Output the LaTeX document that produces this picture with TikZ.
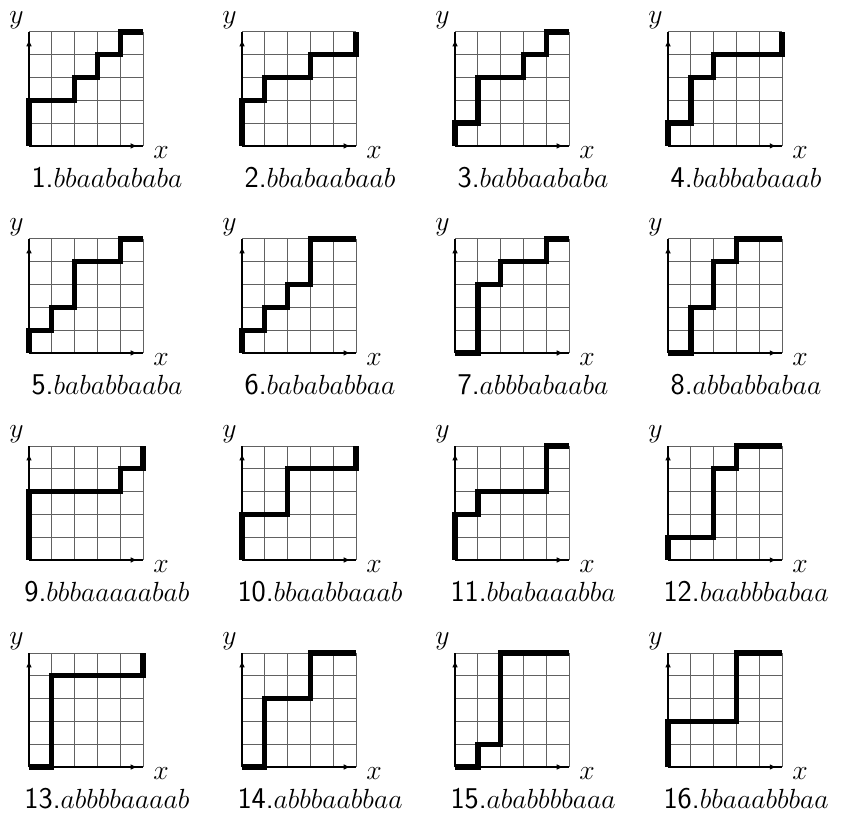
\documentclass[tikz,border=0pt]{standalone}
\usetikzlibrary{arrows.meta}

% one panel: grid, axes, lattice path and its word
% #1 number, #2 column, #3 row, #4 word, #5 path
\newcommand{\walkpanel}[5]{%
  \begin{scope}[shift={({1.272+9.342*#2},{29.52-9.079*#3})}]
    \draw[gridline] (0,0) grid (5,5);
    \draw[axisline] (0,0) -- (5,0);
    \draw[axisline] (0,0) -- (0,5);
    \draw[axistip] (4.4,0) -- (4.74,0);
    \draw[axistip] (0,4.3) -- (0,4.65);
    \node[axislbl] (x#1) at (5.79,-0.53) {$x$};
    \node[axislbl] (y#1) at (-0.55,5.39) {$y$};
    \node[wordlbl] (w#1) at (3.42,-1.84) {\textsf{#1.}$#4$};
    \draw[walk] #5;
  \end{scope}}

\begin{document}
\begin{tikzpicture}[
  x=5mm, y=5mm,
  gridline/.style={black!62, line width=0.6pt, step=1},
  axisline/.style={black, line width=1.6pt},
  axistip/.style={-{Latex[length=4pt,width=3.5pt]}, line width=0.6pt},
  axislbl/.style={font=\fontsize{17}{20}\selectfont, anchor=base, inner sep=0pt},
  wordlbl/.style={font=\fontsize{18.8}{22}\selectfont, anchor=base, inner sep=0pt},
  walk/.style={black, line width=3.3pt, line join=miter},
]
  \useasboundingbox (0,0) rectangle (37.32,35.92);

  % first row
  \walkpanel{1}{0}{0}{bbaabababa}{(0,0)--(0,2)--(2,2)--(2,3)--(3,3)--(3,4)--(4,4)--(4,5)--(5,5)}
  \walkpanel{2}{1}{0}{bbabaabaab}{(0,0)--(0,2)--(1,2)--(1,3)--(3,3)--(3,4)--(5,4)--(5,5)}
  \walkpanel{3}{2}{0}{babbaababa}{(0,0)--(0,1)--(1,1)--(1,3)--(3,3)--(3,4)--(4,4)--(4,5)--(5,5)}
  \walkpanel{4}{3}{0}{babbabaaab}{(0,0)--(0,1)--(1,1)--(1,3)--(2,3)--(2,4)--(5,4)--(5,5)}

  % second row
  \walkpanel{5}{0}{1}{bababbaaba}{(0,0)--(0,1)--(1,1)--(1,2)--(2,2)--(2,4)--(4,4)--(4,5)--(5,5)}
  \walkpanel{6}{1}{1}{babababbaa}{(0,0)--(0,1)--(1,1)--(1,2)--(2,2)--(2,3)--(3,3)--(3,5)--(5,5)}
  \walkpanel{7}{2}{1}{abbbabaaba}{(0,0)--(1,0)--(1,3)--(2,3)--(2,4)--(4,4)--(4,5)--(5,5)}
  \walkpanel{8}{3}{1}{abbabbabaa}{(0,0)--(1,0)--(1,2)--(2,2)--(2,4)--(3,4)--(3,5)--(5,5)}

  % third row
  \walkpanel{9}{0}{2}{bbbaaaaabab}{(0,0)--(0,3)--(4,3)--(4,4)--(5,4)--(5,5)}
  \walkpanel{10}{1}{2}{bbaabbaaab}{(0,0)--(0,2)--(2,2)--(2,4)--(5,4)--(5,5)}
  \walkpanel{11}{2}{2}{bbabaaabba}{(0,0)--(0,2)--(1,2)--(1,3)--(4,3)--(4,5)--(5,5)}
  \walkpanel{12}{3}{2}{baabbbabaa}{(0,0)--(0,1)--(2,1)--(2,4)--(3,4)--(3,5)--(5,5)}

  % fourth row
  \walkpanel{13}{0}{3}{abbbbaaaab}{(0,0)--(1,0)--(1,4)--(5,4)--(5,5)}
  \walkpanel{14}{1}{3}{abbbaabbaa}{(0,0)--(1,0)--(1,3)--(3,3)--(3,5)--(5,5)}
  \walkpanel{15}{2}{3}{ababbbbaaa}{(0,0)--(1,0)--(1,1)--(2,1)--(2,5)--(5,5)}
  \walkpanel{16}{3}{3}{bbaaabbbaa}{(0,0)--(0,2)--(3,2)--(3,5)--(5,5)}

\end{tikzpicture}
\end{document}
